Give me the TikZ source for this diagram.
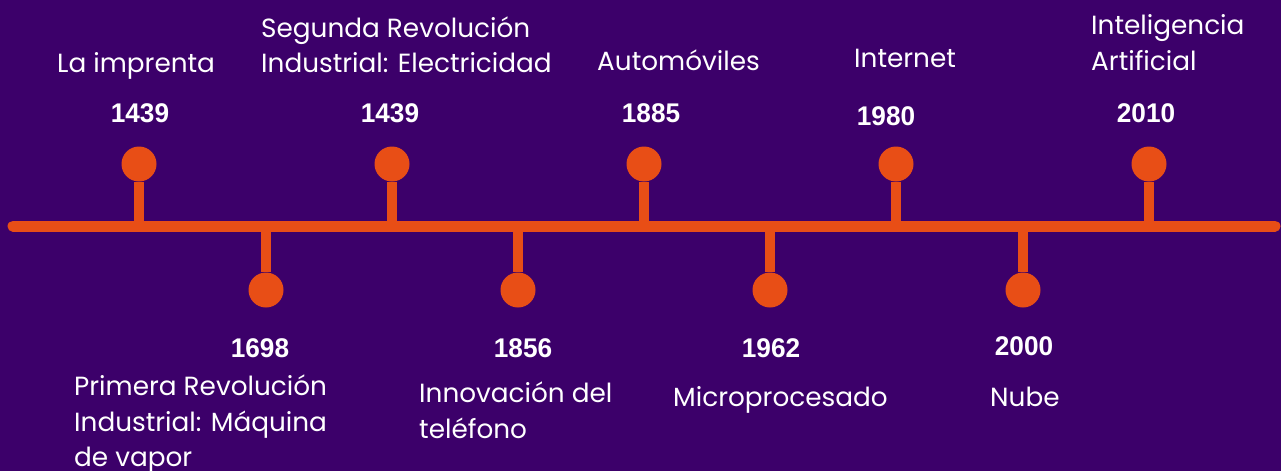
\documentclass[tikz,border=0pt]{standalone}
\usepackage{fontspec}
\usepackage{graphicx}
\setmainfont{Poppins}
\newfontfamily\yearfam{Liberation Sans}
\definecolor{bgpurple}{RGB}{60,0,106}
\definecolor{tlorange}{RGB}{232,78,22}
\newcommand{\yr}[1]{{\yearfam\bfseries\fontsize{27}{30}\selectfont\scalebox{0.97}[1]{#1}}}
\tikzset{
  lbl/.style={anchor=base west, inner sep=0pt, text=white, font=\fontsize{26.3}{36}\selectfont, align=left},
  year/.style={anchor=base, inner sep=0pt, text=white},
  axis/.style={draw=tlorange, line width=11pt, line cap=round},
  stem/.style={draw=tlorange, line width=10.5pt},
  dot/.style={circle, fill=tlorange, minimum size=35pt, inner sep=0pt}
}
\begin{document}
\begin{tikzpicture}[x=1pt,y=-1pt]
\fill[bgpurple] (0,0) rectangle (1281,471);
\useasboundingbox (0,0) rectangle (1281,471);
% axis
\coordinate (L) at (13,226);
\coordinate (R) at (1275,226);
\draw[axis] (L) -- (R);
% up markers
\foreach \n/\x in {u1/139,u2/392,u3/644,u4/896,u5/1149}{
  \node[dot] (\n) at (\x,164) {};
  \coordinate (\n b) at (\x,226);
  \draw[stem] (\n) -- (\n b);
}
% down markers
\foreach \n/\x in {d1/266,d2/518,d3/770,d4/1023}{
  \node[dot] (\n) at (\x,290) {};
  \coordinate (\n b) at (\x,226);
  \draw[stem] (\n) -- (\n b);
}
% top years
\node[year] (y1) at (140,122) {\yr{1439}};
\node[year] (y2) at (390,122) {\yr{1439}};
\node[year] (y3) at (651,122) {\yr{1885}};
\node[year] (y4) at (886,125) {\yr{1980}};
\node[year] (y5) at (1146,122) {\yr{2010}};
% bottom years
\node[year] (z1) at (260,357) {\yr{1698}};
\node[year] (z2) at (523,357) {\yr{1856}};
\node[year] (z3) at (771,357) {\yr{1962}};
\node[year] (z4) at (1024,355) {\yr{2000}};
% top labels
\node[lbl] (t1) at (57,72) {La imprenta};
\node[lbl] (t2a) at (261,37) {Segunda Revolución};
\node[lbl] (t2b) at (261,72) {Industrial: Electricidad};
\node[lbl] (t3) at (597,70) {Automóviles};
\node[lbl] (t4) at (854,67) {Internet};
\node[lbl] (t5a) at (1091,34) {Inteligencia};
\node[lbl] (t5b) at (1091,70) {Artificial};
% bottom labels
\node[lbl] (b1a) at (74,395) {Primera Revolución};
\node[lbl] (b1b) at (74,431) {Industrial: Máquina};
\node[lbl] (b1c) at (74,466) {de vapor};
\node[lbl] (b2a) at (419,402) {Innovación del};
\node[lbl] (b2b) at (419,438) {teléfono};
\node[lbl] (b3) at (673,406) {Microprocesado};
\node[lbl] (b4) at (990,406) {Nube};
\end{tikzpicture}
\end{document}
